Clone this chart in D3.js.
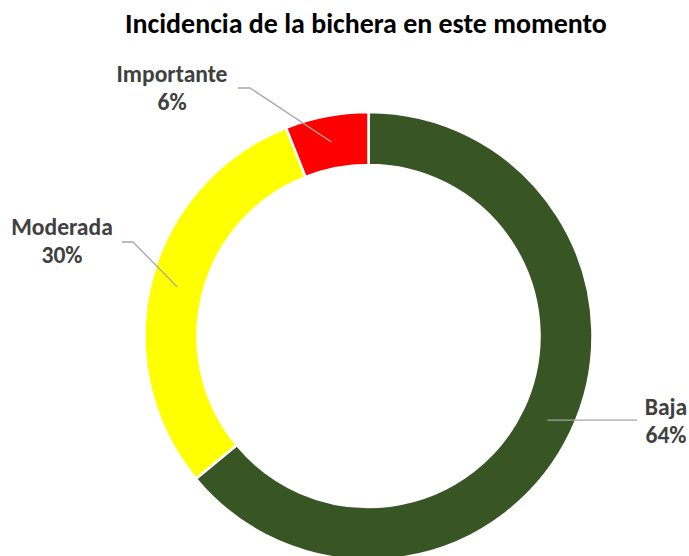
<!DOCTYPE html>
<html>
<head>
<meta charset="utf-8">
<script src="https://cdn.jsdelivr.net/npm/d3@7"></script>
<style>
    body { margin: 0; background: #fff; }
    text { font-family: Calibri, Carlito, Lato, sans-serif; font-weight: bold; }
</style>
</head>
<body>
<div id="chart"></div>
<script>
// chart data
const title = "Incidencia de la bichera en este momento";
const categories = ["Baja", "Moderada", "Importante"];
const values = [64, 30, 6];
const colors = ["#375623", "#FFFF00", "#FF0000"];

// layout
const width = 689, height = 556;
const cx = 368.5, cy = 336;
const outerR = 224, innerR = 171;

// label text anchors and leader line bends, relative to the centre
const labelPos = [
    {dx: 297.5, dy: 79, elbow: null, endX: 268.5},
    {dx: -306.5, dy: -101, elbow: [-235.5, -94], endX: -246.5},
    {dx: -196.5, dy: -254, elbow: [-118.5, -248], endX: -130.5}
];

const svg = d3.select("#chart").append("svg")
    .attr("width", width).attr("height", height);

// fit a text to a width by adjusting its font size
function fitText(sel, target) {
    let size = parseFloat(sel.attr("font-size"));
    let w = sel.node().getComputedTextLength();
    sel.attr("font-size", size * target / w);
}

let t = svg.append("text")
    .attr("x", 366).attr("y", 33)
    .attr("text-anchor", "middle")
    .attr("font-size", 24)
    .attr("fill", "#000")
    .text(title);
fitText(t, 482);

const pie = d3.pie().sort(null).value(d => d);
const arc = d3.arc().innerRadius(innerR).outerRadius(outerR);
const arcs = pie(values);

const g = svg.append("g").attr("transform", `translate(${cx},${cy})`);

g.selectAll("path.slice")
    .data(arcs)
    .join("path")
    .attr("class", "slice")
    .attr("d", arc)
    .attr("fill", (d, i) => colors[i])
    .attr("stroke", "#fff")
    .attr("stroke-width", 2.5);

// leader lines: centroid -> (elbow) -> short horizontal stub
arcs.forEach((d, i) => {
    let c = arc.centroid(d);
    let p = labelPos[i];
    let pts = [c];
    if (p.elbow) pts.push(p.elbow);
    let last = pts[pts.length - 1];
    pts.push([p.endX, last[1]]);
    g.append("path")
        .attr("d", d3.line()(pts))
        .attr("fill", "none")
        .attr("stroke", "#A6A6A6")
        .attr("stroke-width", 1.3);
});

// labels
let labelSize = null;
arcs.forEach((d, i) => {
    let p = labelPos[i];
    let txt = g.append("text")
        .attr("x", p.dx).attr("y", p.dy)
        .attr("text-anchor", "middle")
        .attr("font-size", 20)
        .attr("fill", "#404040");
    txt.append("tspan").attr("x", p.dx).text(categories[i]);
    txt.append("tspan").attr("x", p.dx).attr("dy", 28).text(values[i] + "%");
    if (i === 2) {
        // size all labels from "Importante" (111px wide in the reference)
        let w = txt.select("tspan").node().getComputedTextLength();
        labelSize = 20 * 111 / w;
    }
});
g.selectAll("text").attr("font-size", labelSize);
</script>
</body>
</html>
